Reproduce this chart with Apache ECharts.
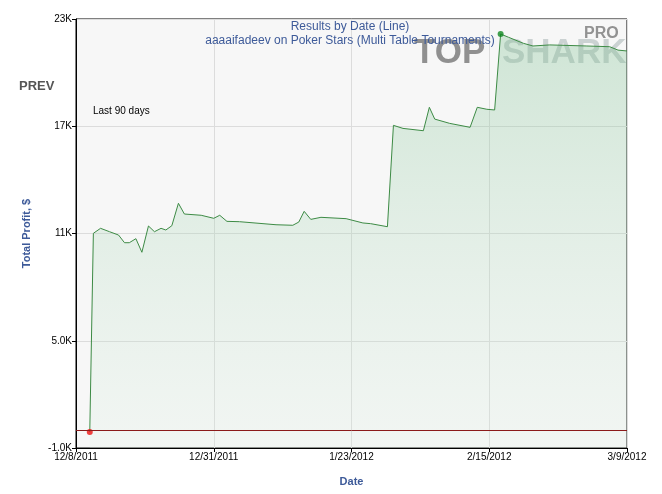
<!DOCTYPE html>
<html>
<head>
<meta charset="utf-8">
<script src="https://cdn.jsdelivr.net/npm/echarts@6/dist/echarts.min.js"></script>
<style>
html, body { margin: 0; padding: 0; background: #fff; }
#main { width: 662px; height: 494px; }
</style>
</head>
<body>
<div id="main"></div>
<script>
// days since 12/8/2011 and cumulative profit
var days = [2.3, 2.9, 4.1, 5.6, 7.1, 8.1, 8.9, 10, 11, 12.1, 13.1, 14.2, 15, 16, 17.1, 18.1, 20.9, 23, 24, 25.2, 27.3, 33.4, 36.2, 37.2, 38.1, 39.2, 40.9, 45.1, 47.9, 49.2, 52, 53, 54.6, 58, 59, 59.9, 62.4, 65.8, 67, 68.6, 69.9, 70.9, 72.2, 74.7, 76.3, 79.1, 85.3, 89.1, 90.5, 92];
var profit = [-100, 11010, 11290, 11100, 10915, 10485, 10485, 10710, 9950, 11420, 11100, 11290, 11195, 11435, 12690, 12090, 12020, 11850, 12020, 11680, 11660, 11490, 11460, 11640, 12240, 11790, 11905, 11830, 11590, 11550, 11380, 17050, 16880, 16750, 18060, 17400, 17160, 16940, 18060, 17950, 17910, 22160, 21980, 21640, 21490, 21550, 21490, 21450, 21260, 21210];
var x_labels = {0: '12/8/2011', 23: '12/31/2011', 46: '1/23/2012', 69: '2/15/2012', 92: '3/9/2012'};
var y_labels = {0: '-1.0K', 6000: '5.0K', 12000: '11K', 18000: '17K', 24000: '23K'};
var y_shift = 1000; // axis runs from -1000, shifted so ticks start at 0

var chart = echarts.init(document.getElementById('main'));
var line_data = [];
for (var i = 0; i < days.length; i++) {
    line_data.push([days[i], profit[i] + y_shift]);
}
var blue = '#3d5a99';

var option = {
    animation: false,
    backgroundColor: '#fff',
    grid: {
        left: 76, right: 35, top: 19, bottom: 46,
        show: true, backgroundColor: '#f7f7f7', borderColor: '#000', borderWidth: 1
    },
    title: {
        text: 'Results by Date (Line)',
        subtext: 'aaaaifadeev on Poker Stars (Multi Table Tournaments)',
        left: 345, top: 16, textAlign: 'center', itemGap: 2,
        textStyle: { color: blue, fontSize: 12, fontWeight: 'normal', fontFamily: 'Liberation Sans' },
        subtextStyle: { color: blue, fontSize: 12, fontFamily: 'Liberation Sans' }
    },
    graphic: [
        { type: 'text', left: 414, top: 36, z: 1, style: { text: 'TOP', fill: 'rgba(110,110,110,0.75)', font: 'bold 35px Liberation Sans' } },
        { type: 'text', left: 502, top: 36, z: 1, style: { text: 'SHARK', fill: 'rgba(120,140,140,0.35)', font: 'bold 35px Liberation Sans' } },
        { type: 'text', left: 584, top: 26, z: 1, style: { text: 'PRO', fill: 'rgba(120,120,120,0.8)', font: 'bold 16px Liberation Sans' } },
        { type: 'text', left: 19, top: 80, style: { text: 'PREV', fill: '#555', font: 'bold 13px Liberation Sans' } },
        { type: 'text', left: 93, top: 106, style: { text: 'Last 90 days', fill: '#000', font: '10px Liberation Sans' } }
    ],
    xAxis: {
        type: 'value', min: 0, max: 92, interval: 23,
        name: 'Date', nameLocation: 'middle', nameGap: 28,
        nameTextStyle: { color: blue, fontWeight: 'bold', fontSize: 11, fontFamily: 'Liberation Sans' },
        axisLine: { lineStyle: { color: '#000' } },
        axisTick: { show: true, length: 4, lineStyle: { color: '#000' } },
        axisLabel: {
            color: '#000', fontSize: 10, margin: 4, fontFamily: 'Liberation Sans',
            formatter: function (v) { return x_labels[v] || ''; }
        },
        splitLine: { show: true, lineStyle: { color: '#dcdcdc' } }
    },
    yAxis: {
        type: 'value', min: 0, max: 24000, interval: 6000,
        name: 'Total Profit, $', nameLocation: 'middle', nameGap: 44,
        nameTextStyle: { color: blue, fontWeight: 'bold', fontSize: 11, fontFamily: 'Liberation Sans' },
        axisLine: { show: true, lineStyle: { color: '#000' } },
        axisTick: { show: true, length: 4, lineStyle: { color: '#000' } },
        axisLabel: {
            color: '#000', fontSize: 10, margin: 4, fontFamily: 'Liberation Sans',
            formatter: function (v) { return y_labels[v] || ''; }
        },
        splitLine: { show: true, lineStyle: { color: '#dcdcdc' } }
    },
    series: [{
        type: 'line',
        data: line_data,
        symbol: 'none',
        z: 3,
        lineStyle: { color: '#3d8b45', width: 1 },
        areaStyle: {
            origin: 'start',
            color: new echarts.graphic.LinearGradient(0, 0, 0, 1, [
                { offset: 0, color: 'rgba(120,190,140,0.45)' },
                { offset: 1, color: 'rgba(215,238,222,0.25)' }
            ])
        },
        markLine: {
            silent: true, symbol: 'none', label: { show: false },
            lineStyle: { color: '#8b1a1a', width: 1, type: 'solid' },
            data: [{ yAxis: 0 + y_shift }]
        }
    }, {
        type: 'scatter',
        z: 4,
        symbolSize: 6,
        data: [
            { value: line_data[0], itemStyle: { color: '#ee1111' } },
            { value: line_data[41], itemStyle: { color: '#118822' } }
        ]
    }]
};
chart.setOption(option);
</script>
</body>
</html>
